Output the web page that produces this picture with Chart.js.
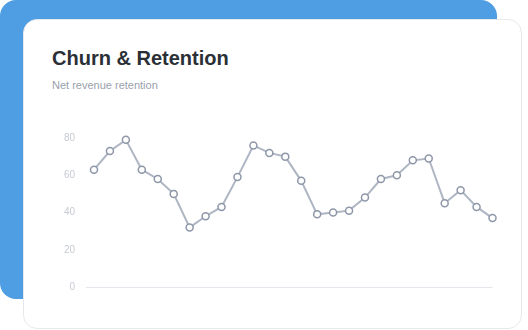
<!DOCTYPE html>
<html>
<head>
<meta charset="utf-8">
<script src="https://cdn.jsdelivr.net/npm/chart.js@4"></script>
<style>
  html, body { margin: 0; padding: 0; background: #fff; }
  body { width: 528px; height: 330px; position: relative; overflow: hidden; font-family: 'Liberation Sans', Arial, Helvetica, sans-serif; }
  .backdrop { position: absolute; left: 0; top: 0; width: 497px; height: 299px; background: #4f9de2; border-radius: 16px; }
  .card { position: absolute; left: 23px; top: 19px; width: 497px; height: 308px; background: #fff; border: 1px solid #e6e8ec; border-radius: 14px; }
  .title { position: absolute; left: 52px; top: 47px; font-size: 20px; font-weight: bold; color: #2b3036; }
  .subtitle { position: absolute; left: 52px; top: 79px; font-size: 11px; color: #9aa1ad; }
  #chart { position: absolute; left: 60px; top: 121px; }
</style>
</head>
<body>
<div class="backdrop"></div>
<div class="card"></div>
<div class="title">Churn &amp; Retention</div>
<div class="subtitle">Net revenue retention</div>
<canvas id="chart" width="438" height="183"></canvas>
<script>
// Semanas (rótulos do eixo x ficam ocultos)
const weeks = ['W1', 'W2', 'W3', 'W4', 'W5', 'W6', 'W7', 'W8', 'W9', 'W10', 'W11', 'W12', 'W13',
    'W14', 'W15', 'W16', 'W17', 'W18', 'W19', 'W20', 'W21', 'W22', 'W23', 'W24', 'W25', 'W26'];
const retention = [63, 73, 79, 63, 58, 50, 32, 38, 43, 59, 76, 72, 70,
    57, 39, 40, 41, 48, 58, 60, 68, 69, 45, 52, 43, 37];
const yTicks = [0, 20, 40, 60, 80];

const ctx = document.getElementById('chart').getContext('2d');
const chart = new Chart(ctx, {
    type: 'line',
    data: {
        labels: weeks,
        datasets: [{
            label: 'Net revenue retention',
            data: retention,
            borderColor: '#aeb5c3',
            borderWidth: 2,
            pointBackgroundColor: '#fff',
            pointBorderColor: '#8e97a8',
            pointBorderWidth: 1.5,
            pointRadius: 3.5,
            tension: 0,
            fill: false,
            clip: false
        }]
    },
    options: {
        responsive: false,
        animation: false,
        layout: { padding: { top: 0, right: 0, bottom: 2, left: 0 } },
        plugins: {
            legend: { display: false },
            tooltip: { enabled: false }
        },
        scales: {
            x: {
                offset: false,
                ticks: { display: false },
                grid: { display: false },
                border: { display: false }
            },
            y: {
                min: yTicks[0],
                max: yTicks[yTicks.length - 1],
                afterFit: (scale) => { scale.width = 34; },
                afterBuildTicks: (scale) => { scale.ticks = yTicks.map(v => ({ value: v })); },
                ticks: {
                    color: '#c6cad2',
                    padding: 11,
                    font: { family: "'Liberation Sans', Arial, sans-serif", size: 10 }
                },
                grid: {
                    color: (c) => c.tick && c.tick.value === 0 ? '#e4e7ec' : 'transparent',
                    tickLength: 8
                },
                border: { display: false }
            }
        }
    }
});
</script>
</body>
</html>
